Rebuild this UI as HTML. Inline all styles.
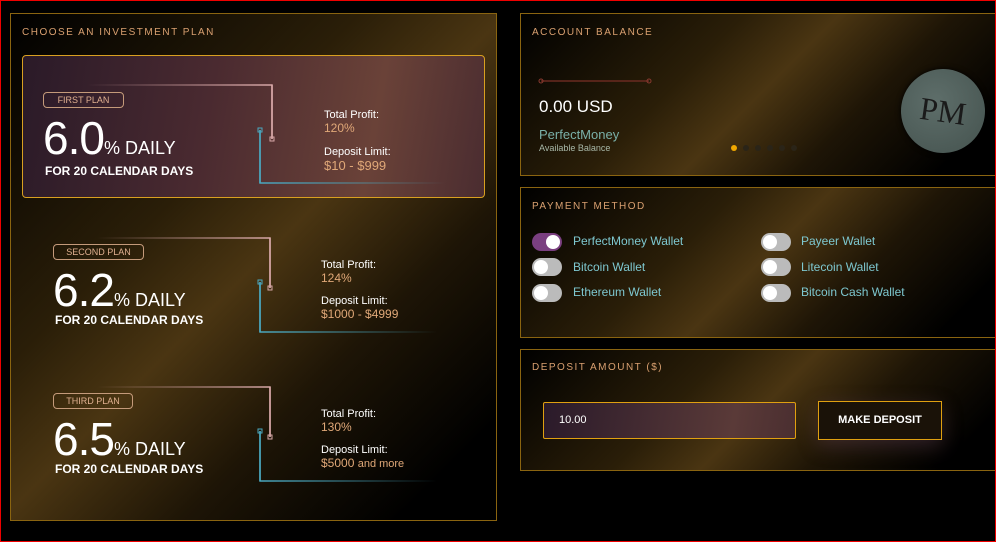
<!DOCTYPE html>
<html><head><meta charset="utf-8"><style>
*{margin:0;padding:0;box-sizing:border-box}
body{width:996px;height:542px;overflow:hidden;background:#000;font-family:"Liberation Sans",sans-serif;position:relative}
.frame{position:absolute;left:0;top:0;width:996px;height:542px;border:1px solid #e00;z-index:50;pointer-events:none}
.panel{position:absolute;border:1px solid #8a6410;background:linear-gradient(135deg,#000 0%,#2a1e08 35%,#4a3512 50%,#1e1506 68%,#000 90%)}
.ttl{position:absolute;color:#d9a070;font-size:10px;letter-spacing:1.5px}
.abs{position:absolute;white-space:nowrap}
.badge{position:absolute;border:1px solid #c49a7a;border-radius:4px;color:#e0b090;font-size:9px;text-align:center;line-height:14px}
.big{font-size:46px;color:#fff;font-weight:normal;letter-spacing:-1px}
.daily{font-size:18px;color:#fff}
.days{font-size:12px;color:#fff;font-weight:bold}
.lbl{font-size:11px;color:#fff}
.val{font-size:12px;color:#e0a878}
.tg{position:absolute;width:30px;height:18px;border-radius:9px;background:#bbb}
.tg::after{content:"";position:absolute;left:2px;top:2px;width:14px;height:14px;border-radius:50%;background:#fff}
.tg.on{background:#7a3f80}.tg.on::after{left:14px}
.wl{position:absolute;color:#7ec8d0;font-size:12px;white-space:nowrap}
</style></head><body>
<div class="frame"></div>
<div class="panel" style="left:10px;top:13px;width:487px;height:508px"></div>
<div class="ttl" style="left:22px;top:27px">CHOOSE AN INVESTMENT PLAN</div>
<div class="abs" style="left:22px;top:55px;width:463px;height:143px;border:1px solid #d9a020;border-radius:4px;background:linear-gradient(100deg,#2a1a28 0%,#4a2a30 40%,#6a4238 75%,#4a2c30 100%)"></div>

<svg class="abs" style="left:0;top:0" width="500" height="542">
<defs>
<linearGradient id="pk" x1="0" x2="1"><stop offset="0" stop-color="#c79a9a" stop-opacity="0"/><stop offset="1" stop-color="#d8a8a8"/></linearGradient>
<linearGradient id="cy" x1="0" x2="1"><stop offset="0" stop-color="#4aa8c0"/><stop offset="1" stop-color="#4aa8c0" stop-opacity="0"/></linearGradient>
</defs>
<g fill="none" stroke-width="1.5">
<path d="M87 85H272V139" stroke="url(#pk)"/><path d="M272 85V139" stroke="#d8a8a8"/>
<rect x="270" y="137" width="4" height="4" stroke="#d8a8a8" stroke-width="1"/>
<path d="M260 130V183H445" stroke="url(#cy)"/><path d="M260 130V183" stroke="#4aa8c0"/>
<rect x="258" y="128" width="4" height="4" stroke="#4aa8c0" stroke-width="1"/>

<path d="M97 238H270V288" stroke="url(#pk)"/><path d="M270 238V288" stroke="#d8a8a8"/>
<rect x="268" y="286" width="4" height="4" stroke="#d8a8a8" stroke-width="1"/>
<path d="M260 282V332H437" stroke="url(#cy)"/><path d="M260 282V332" stroke="#4aa8c0"/>
<rect x="258" y="280" width="4" height="4" stroke="#4aa8c0" stroke-width="1"/>

<path d="M97 387H270V437" stroke="url(#pk)"/><path d="M270 387V437" stroke="#d8a8a8"/>
<rect x="268" y="435" width="4" height="4" stroke="#d8a8a8" stroke-width="1"/>
<path d="M260 431V481H437" stroke="url(#cy)"/><path d="M260 431V481" stroke="#4aa8c0"/>
<rect x="258" y="429" width="4" height="4" stroke="#4aa8c0" stroke-width="1"/>
</g></svg>

<div class="badge" style="left:43px;top:92px;width:81px;height:16px">FIRST PLAN</div>
<div class="abs" style="left:43px;top:111px"><span class="big">6.0</span><span class="daily">% DAILY</span></div>
<div class="abs days" style="left:45px;top:164px">FOR 20 CALENDAR DAYS</div>
<div class="abs lbl" style="left:324px;top:109px">Total Profit:</div>
<div class="abs val" style="left:324px;top:121px">120%</div>
<div class="abs lbl" style="left:324px;top:146px">Deposit Limit:</div>
<div class="abs val" style="left:324px;top:158px;font-size:13px">$10 - $999</div>

<div class="badge" style="left:53px;top:244px;width:91px;height:16px">SECOND PLAN</div>
<div class="abs" style="left:53px;top:263px"><span class="big">6.2</span><span class="daily">% DAILY</span></div>
<div class="abs days" style="left:55px;top:313px">FOR 20 CALENDAR DAYS</div>
<div class="abs lbl" style="left:321px;top:259px">Total Profit:</div>
<div class="abs val" style="left:321px;top:271px">124%</div>
<div class="abs lbl" style="left:321px;top:295px">Deposit Limit:</div>
<div class="abs val" style="left:321px;top:307px">$1000 - $4999</div>

<div class="badge" style="left:53px;top:393px;width:80px;height:16px">THIRD PLAN</div>
<div class="abs" style="left:53px;top:412px"><span class="big">6.5</span><span class="daily">% DAILY</span></div>
<div class="abs days" style="left:55px;top:462px">FOR 20 CALENDAR DAYS</div>
<div class="abs lbl" style="left:321px;top:408px">Total Profit:</div>
<div class="abs val" style="left:321px;top:420px">130%</div>
<div class="abs lbl" style="left:321px;top:444px">Deposit Limit:</div>
<div class="abs val" style="left:321px;top:456px">$5000 <span style="font-size:11px">and more</span></div>

<!-- account balance -->
<div class="panel" style="left:520px;top:13px;width:480px;height:163px"></div>
<div class="ttl" style="left:532px;top:27px">ACCOUNT BALANCE</div>
<svg class="abs" style="left:535px;top:76px" width="120" height="10"><line x1="6" y1="5" x2="114" y2="5" stroke="#6a2a20" stroke-width="1.5"/><circle cx="6" cy="5" r="2" fill="none" stroke="#8a3a30"/><circle cx="114" cy="5" r="2" fill="none" stroke="#8a3a30"/></svg>
<div class="abs" style="left:539px;top:97px;color:#fff;font-size:17px">0.00 USD</div>
<div class="abs" style="left:539px;top:127px;color:#7ab0a8;font-size:13px">PerfectMoney</div>
<div class="abs" style="left:539px;top:143px;color:#a8b8a8;font-size:9px">Available Balance</div>
<div class="abs" style="left:731px;top:145px;width:6px;height:6px;border-radius:50%;background:#f0a800"></div>
<div class="abs" style="left:743px;top:145px;width:6px;height:6px;border-radius:50%;background:#2a2418"></div>
<div class="abs" style="left:755px;top:145px;width:6px;height:6px;border-radius:50%;background:#2a2418"></div>
<div class="abs" style="left:767px;top:145px;width:6px;height:6px;border-radius:50%;background:#2a2418"></div>
<div class="abs" style="left:779px;top:145px;width:6px;height:6px;border-radius:50%;background:#2a2418"></div>
<div class="abs" style="left:791px;top:145px;width:6px;height:6px;border-radius:50%;background:#2a2418"></div>
<div class="abs" style="left:901px;top:69px;width:84px;height:84px;border-radius:50%;background:radial-gradient(circle at 40% 40%,#5e6e6a,#44524e);box-shadow:0 0 6px #000;color:#1a1a1a;font-family:'Liberation Serif',serif;font-size:32px;text-align:center;line-height:84px;transform:rotate(8deg);font-style:normal">PM</div>

<!-- payment -->
<div class="panel" style="left:520px;top:187px;width:480px;height:151px"></div>
<div class="ttl" style="left:532px;top:201px">PAYMENT METHOD</div>
<div class="tg on" style="left:532px;top:233px"></div><div class="wl" style="left:573px;top:234px">PerfectMoney Wallet</div>
<div class="tg" style="left:532px;top:258px"></div><div class="wl" style="left:573px;top:260px">Bitcoin Wallet</div>
<div class="tg" style="left:532px;top:284px"></div><div class="wl" style="left:573px;top:285px">Ethereum Wallet</div>
<div class="tg" style="left:761px;top:233px"></div><div class="wl" style="left:801px;top:234px">Payeer Wallet</div>
<div class="tg" style="left:761px;top:258px"></div><div class="wl" style="left:801px;top:260px">Litecoin Wallet</div>
<div class="tg" style="left:761px;top:284px"></div><div class="wl" style="left:801px;top:285px">Bitcoin Cash Wallet</div>

<!-- deposit -->
<div class="panel" style="left:520px;top:349px;width:480px;height:122px"></div>
<div class="ttl" style="left:532px;top:362px">DEPOSIT AMOUNT ($)</div>
<div class="abs" style="left:543px;top:402px;width:253px;height:37px;border:1px solid #e0a010;border-radius:2px;background:linear-gradient(100deg,#2a1a2a,#5a3a38 75%,#4a2e30);color:#fff;font-size:11px;line-height:35px;padding-left:15px">10.00</div>
<div class="abs" style="left:818px;top:401px;width:124px;height:39px;border:1px solid #e0a010;background:#1a1208;box-shadow:0 6px 20px rgba(120,80,110,.35);color:#fff;font-size:11px;font-weight:bold;text-align:center;line-height:37px">MAKE DEPOSIT</div>
</body></html>
